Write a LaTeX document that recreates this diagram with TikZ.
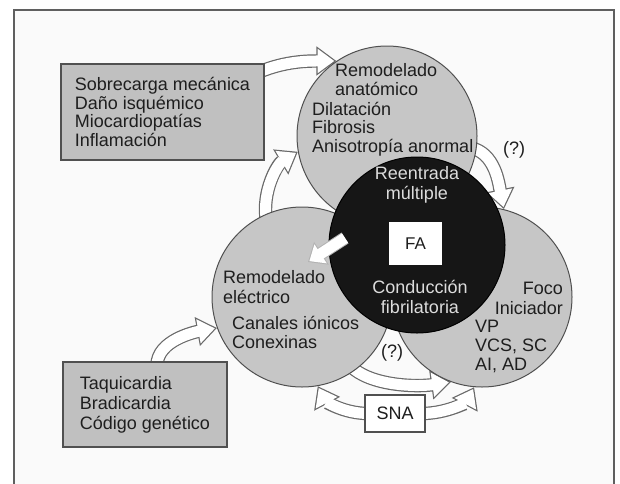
\documentclass[tikz,border=0pt]{standalone}
\usepackage{fontspec}
\setmainfont{Liberation Sans}
\usetikzlibrary{arrows.meta,calc}
\pgfdeclarelayer{bg}
\pgfdeclarelayer{arr}
\pgfsetlayers{bg,arr,main}
\definecolor{pagebg}{RGB}{250,250,250}
\definecolor{framecol}{RGB}{95,95,95}
\definecolor{circfill}{RGB}{198,198,198}
\definecolor{boxfill}{RGB}{192,192,192}
\definecolor{edgecol}{RGB}{80,80,80}
\definecolor{arrowedge}{RGB}{105,105,105}
\definecolor{darkfill}{RGB}{22,22,22}
\definecolor{ink}{RGB}{30,30,30}
\definecolor{lightink}{RGB}{220,220,220}
\newcommand\hollowarrow[1]{%
  \draw[harrow outer] #1;
  \draw[harrow inner] #1;}
\begin{document}
\begin{tikzpicture}[x=1pt,y=-1pt,
  greycirc/.style={circle,draw=edgecol,line width=1pt,fill=circfill,minimum size=180pt,inner sep=0pt},
  darkcirc/.style={circle,draw=black,line width=1pt,fill=darkfill,minimum size=176pt,inner sep=0pt},
  greybox/.style={draw=edgecol,line width=1.2pt,fill=boxfill,align=left,text=ink,inner sep=0pt},
  whitebox/.style={draw=edgecol,line width=1.2pt,fill=white,text=ink,inner sep=0pt,font=\fontsize{18}{20}\selectfont},
  lbl/.style={inner sep=0pt,text=ink,align=left},
  darklbl/.style={inner sep=0pt,text=lightink,align=center,font=\fontsize{18}{20}\selectfont},
  harrow outer/.style={draw=arrowedge,line width=13.4pt,-{Triangle[length=20pt,width=28pt]}},
  harrow inner/.style={draw=white,line width=11pt,shorten >=2.1pt,-{Triangle[length=16.7pt,width=23.4pt]}},
  warrow outer/.style={draw=gray!60,line width=13pt,-{Triangle[length=16pt,width=26pt]}},
  warrow inner/.style={draw=white,line width=11pt,shorten >=1.6pt,-{Triangle[length=13.4pt,width=21.8pt]}},
]
\useasboundingbox (0,0) rectangle (620,483);
\begin{pgfonlayer}{bg}
  \fill[white] (0,0) rectangle (620,483);
  \fill[pagebg] (14,10) rectangle (614,495);
  \draw[framecol,line width=1.3pt] (14,495) -- (14,10) -- (614,10) -- (614,495);
\end{pgfonlayer}

% circles
\node[greycirc] (T) at (387,136) {};
\node[greycirc] (L) at (302,297) {};
\node[greycirc] (R) at (482,297) {};
\node[darkcirc] (C) at (417,245) {};
\node[fill=white,minimum width=53pt,minimum height=43pt,inner sep=0pt,text=ink,font=\fontsize{17}{20}\selectfont] (FA) at (415.5,243.5) {FA};

% boxes
\node[greybox,minimum width=203pt,minimum height=96pt,font=\fontsize{18}{18.5}\selectfont] (B1) at (162.5,112)
  {Sobrecarga mecánica\\Daño isquémico\\Miocardiopatías\\Inflamación};
\node[greybox,minimum width=164pt,minimum height=85pt,font=\fontsize{18}{20}\selectfont] (B2) at (145,404.5)
  {Taquicardia\\Bradicardia\\Código genético};
\node[whitebox,minimum width=60pt,minimum height=37pt] (SNA) at (395,413.5) {SNA};

% texts in circles
\node[lbl,anchor=west,font=\fontsize{18}{19}\selectfont] (ta) at (335,80) {Remodelado\\anatómico};
\node[lbl,anchor=west,font=\fontsize{18}{18.5}\selectfont] (tb) at (312,129) {Dilatación\\Fibrosis\\Anisotropía anormal};
\node[lbl,anchor=west,font=\fontsize{18}{20}\selectfont] (la) at (223,287) {Remodelado\\eléctrico};
\node[lbl,anchor=west,font=\fontsize{18}{19}\selectfont] (lb) at (232,332.5) {Canales iónicos\\Conexinas};
\node[lbl,anchor=east,align=right,font=\fontsize{18}{20}\selectfont] (ra) at (563,298) {Foco\\Iniciador};
\node[lbl,anchor=west,font=\fontsize{18}{19}\selectfont] (rb) at (475,346) {VP\\VCS, SC\\AI, AD};
\node[darklbl] (ca) at (417,185) {Reentrada\\múltiple};
\node[darklbl] (cb) at (420,297) {Conducción\\fibrilatoria};
\node[lbl,font=\fontsize{18}{20}\selectfont] (q1) at (514,150) {(?)};
\node[lbl,font=\fontsize{18}{20}\selectfont] (q2) at (392,353) {(?)};

% white arrow from the dark circle into the left circle
\coordinate (wt) at (345,238);
\coordinate (wh) at (308,262);
\draw[warrow outer] (wt) -- (wh);
\draw[warrow inner] (wt) -- (wh);

% hollow curved arrows (behind shapes)
\coordinate (t1) at ($(B1.north east)+(-4,8)$);
\coordinate (t2) at ($(L)!0.93!(L.115)$);
\coordinate (t3) at ($(T)!0.93!(T.-8)$);
\coordinate (t4) at ($(B2.north)+(12,4)$);
\coordinate (t5) at ($(L)!0.93!(L.-55)$);
\coordinate (t6) at ($(SNA.west)+(4,0)$);
\coordinate (t7) at ($(SNA.east)+(-4,0)$);
\begin{pgfonlayer}{arr}
  \hollowarrow{(t1) .. controls +(25,-10) and +(-30,0) .. (T.124)}
  \hollowarrow{(t2) .. controls +(-5,-30) and +(-20,12) .. (T.190)}
  \hollowarrow{(t3) .. controls +(25,5) and +(-5,-25) .. (R.76)}
  \hollowarrow{(t4) .. controls +(0,-25) and +(-22,4) .. (L.200)}
  \hollowarrow{(t5) .. controls +(20,20) and +(-35,5) .. (R.250)}
  \hollowarrow{(t6) .. controls +(-25,0) and +(8,15) .. (L.-80)}
  \hollowarrow{(t7) .. controls +(25,0) and +(-8,15) .. (R.-95)}
\end{pgfonlayer}
\end{tikzpicture}
\end{document}
